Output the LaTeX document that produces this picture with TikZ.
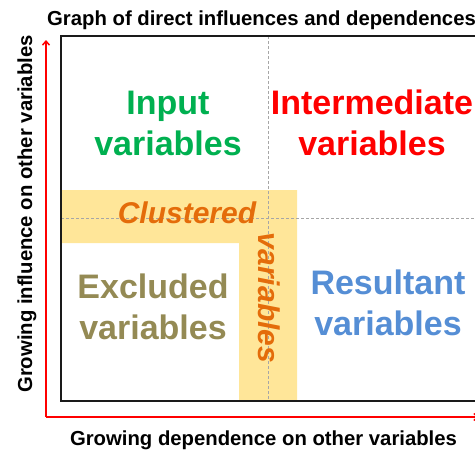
\documentclass[tikz,border=0pt]{standalone}
\usepackage{fontspec}
\setmainfont{Liberation Sans}
\usetikzlibrary{arrows.meta}
\definecolor{cgreen}{HTML}{00B050}
\definecolor{cred}{HTML}{FF0000}
\definecolor{colive}{HTML}{948A54}
\definecolor{cblue}{HTML}{558ED5}
\definecolor{corange}{HTML}{E46C0A}
\definecolor{cyellow}{HTML}{FFE699}
\definecolor{cgrid}{HTML}{A6A6A6}
\definecolor{cframe}{HTML}{1A1A1A}
\tikzset{
  biglabel/.style={font=\bfseries\fontsize{34}{41}\selectfont, align=center, anchor=base, inner sep=0pt},
  clusterlabel/.style={font=\bfseries\itshape\fontsize{30}{36}\selectfont, text=corange, anchor=base, inner sep=0pt},
  axislabel/.style={font=\bfseries\fontsize{20.3}{24}\selectfont, anchor=base, inner sep=0pt},
  gridline/.style={cgrid, line width=0.8pt, dash pattern=on 3pt off 2pt},
  axisline/.style={cred, line width=1.5pt, -{Straight Barb[length=4pt,width=7pt]}},
}
\begin{document}
\begin{tikzpicture}[x=1pt,y=-1pt]
\useasboundingbox (0,0) rectangle (475,451);
\clip (0,0) rectangle (475,451);
% yellow clustered band
\fill[cyellow] (61,190) -- (297,190) -- (297,401) -- (239,401) -- (239,243) -- (61,243) -- cycle;
% dashed separators
\draw[gridline] (268,36) -- (268,401);
\draw[gridline] (61,218) -- (480,218);
% quadrant labels (anchor = baseline of the last line)
\node[biglabel, text=cgreen] (input) at (168,155) {Input\\variables};
\node[biglabel, text=cred] (inter) at (372,155) {Intermediate\\variables};
\node[biglabel, text=colive] (excl) at (153,339) {Excluded\\variables};
\node[biglabel, text=cblue] (result) at (388,335) {Resultant\\variables};
\node[clusterlabel] (clust1) at (187,223) {Clustered};
\node[clusterlabel, rotate=-90] (clust2) at (258,298) {variables};
% frame
\draw[cframe, line width=1.4pt] (61,36) rectangle (490,401);
% axes
\coordinate (origin) at (46,417);
\coordinate (ytip) at (46,40);
\coordinate (xtip) at (479,417);
\draw[axisline] (origin) -- (ytip);
\draw[axisline] (origin) -- (xtip);
% texts
\node[axislabel, anchor=base west] (title) at (47,25) {Graph of direct influences and dependences};
\node[axislabel] (xlabel) at (263.5,445) {Growing dependence on other variables};
\node[axislabel, rotate=90] (ylabel) at (32,214) {Growing influence on other variables};
\end{tikzpicture}
\end{document}
